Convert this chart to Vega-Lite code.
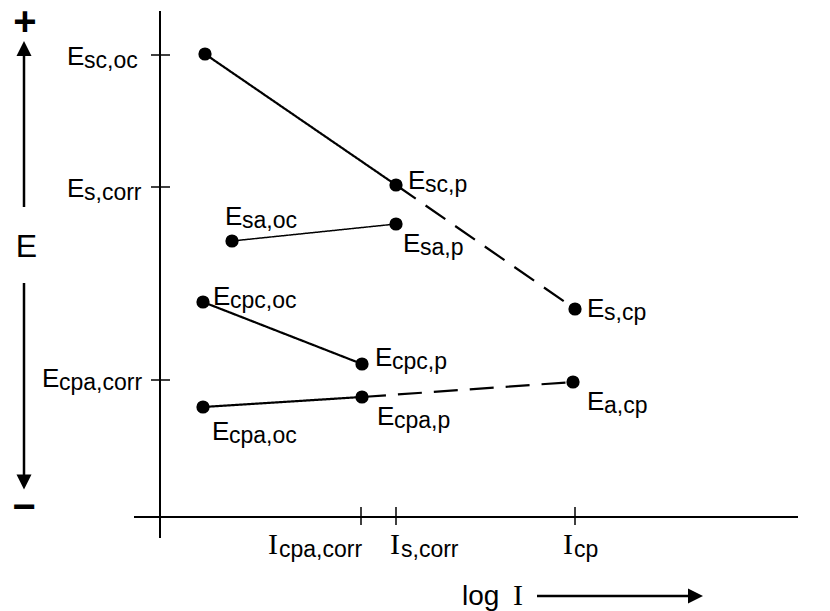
{
  "$schema": "https://vega.github.io/schema/vega-lite/v6.json",
  "width": 830,
  "height": 611,
  "autosize": {"type": "none"},
  "padding": 0,
  "background": "white",
  "config": {"view": {"stroke": null}},
  "datasets": {
    "axes": [
      {"x": 0, "y": 50.6, "x2": 0, "y2": -2.1},
      {"x": -2.6, "y": 0, "x2": 63.8, "y2": 0}
    ],
    "ticks": [
      {"x": -0.9, "y": 46.2, "x2": 1.0, "y2": 46.2},
      {"x": -0.9, "y": 33.0, "x2": 1.0, "y2": 33.0},
      {"x": -0.9, "y": 13.7, "x2": 1.0, "y2": 13.7},
      {"x": 20.1, "y": 1.0, "x2": 20.1, "y2": -0.8},
      {"x": 23.6, "y": 1.0, "x2": 23.6, "y2": -0.8},
      {"x": 41.5, "y": 1.0, "x2": 41.5, "y2": -0.8}
    ],
    "arrows": [
      {"x": -13.6, "y": 46.1, "x2": -13.6, "y2": 31.0},
      {"x": -13.6, "y": 23.4, "x2": -13.6, "y2": 4.1},
      {"x": 37.7, "y": -7.9, "x2": 53.0, "y2": -7.9}
    ],
    "heads": [
      {"x": -13.6, "y": 46.85, "dir": "up"},
      {"x": -13.6, "y": 3.5, "dir": "down"},
      {"x": 53.55, "y": -7.9, "dir": "right"}
    ],
    "segments": [
      {"seg": "sc", "style": "solid", "x": 4.5, "y": 46.3},
      {"seg": "sc", "style": "solid", "x": 23.6, "y": 33.2},
      {"seg": "scd", "style": "dashed", "x": 23.6, "y": 33.2},
      {"seg": "scd", "style": "dashed", "x": 41.5, "y": 20.8},
      {"seg": "sa", "style": "thin", "x": 7.2, "y": 27.6},
      {"seg": "sa", "style": "thin", "x": 23.6, "y": 29.3},
      {"seg": "cpc", "style": "solid", "x": 4.3, "y": 21.5},
      {"seg": "cpc", "style": "solid", "x": 20.2, "y": 15.3},
      {"seg": "cpa", "style": "solid", "x": 4.3, "y": 11.0},
      {"seg": "cpa", "style": "solid", "x": 20.2, "y": 12.0},
      {"seg": "cpad", "style": "dashed", "x": 20.2, "y": 12.0},
      {"seg": "cpad", "style": "dashed", "x": 41.3, "y": 13.5}
    ],
    "points": [
      {"name": "Esc,oc", "x": 4.5, "y": 46.3},
      {"name": "Esc,p", "x": 23.6, "y": 33.2},
      {"name": "Es,cp", "x": 41.5, "y": 20.8},
      {"name": "Esa,oc", "x": 7.2, "y": 27.6},
      {"name": "Esa,p", "x": 23.6, "y": 29.3},
      {"name": "Ecpc,oc", "x": 4.3, "y": 21.5},
      {"name": "Ecpc,p", "x": 20.2, "y": 15.3},
      {"name": "Ecpa,oc", "x": 4.3, "y": 11.0},
      {"name": "Ecpa,p", "x": 20.2, "y": 12.0},
      {"name": "Ea,cp", "x": 41.3, "y": 13.5}
    ],
    "labels": [
      {"k": "E", "main": "E", "sub": "sc,oc", "x": -9.3, "y": 45.2},
      {"k": "E", "main": "E", "sub": "s,corr", "x": -9.3, "y": 32.0},
      {"k": "E", "main": "E", "sub": "cpa,corr", "x": -11.8, "y": 13.0},
      {"k": "E", "main": "E", "sub": "sc,p", "x": 24.8, "y": 32.8},
      {"k": "E", "main": "E", "sub": "sa,oc", "x": 6.5, "y": 29.2},
      {"k": "E", "main": "E", "sub": "sa,p", "x": 24.3, "y": 26.5},
      {"k": "E", "main": "E", "sub": "cpc,oc", "x": 5.3, "y": 21.2},
      {"k": "E", "main": "E", "sub": "s,cp", "x": 42.7, "y": 20.0},
      {"k": "E", "main": "E", "sub": "cpc,p", "x": 21.5, "y": 15.1},
      {"k": "E", "main": "E", "sub": "cpa,p", "x": 21.7, "y": 9.2},
      {"k": "E", "main": "E", "sub": "cpa,oc", "x": 5.2, "y": 7.7},
      {"k": "E", "main": "E", "sub": "a,cp", "x": 42.7, "y": 10.7},
      {"k": "I", "main": "I", "sub": "cpa,corr", "x": 10.8, "y": -3.7},
      {"k": "I", "main": "I", "sub": "s,corr", "x": 23.0, "y": -3.7},
      {"k": "I", "main": "I", "sub": "cp", "x": 40.3, "y": -3.7}
    ],
    "titles": [
      {"t": "E", "x": -13.35, "y": 26.0}
    ],
    "logt": [
      {"t": "log", "x": 30.2, "y": -8.8}
    ],
    "logi": [
      {"t": "I", "x": 35.3, "y": -8.8}
    ],
    "signs": [
      {"t": "+", "x": -13.5, "y": 49.4},
      {"t": "−", "x": -13.6, "y": 0.9}
    ]
  },
  "encoding": {
    "x": {"field": "x", "type": "quantitative", "scale": {"domain": [-16, 67], "nice": false, "zero": false}, "axis": null},
    "y": {"field": "y", "type": "quantitative", "scale": {"domain": [-9.4, 51.7], "nice": false, "zero": false}, "axis": null}
  },
  "layer": [
    {
      "data": {"name": "axes"},
      "mark": {"type": "rule", "color": "black", "strokeWidth": 2},
      "encoding": {"x2": {"field": "x2"}, "y2": {"field": "y2"}}
    },
    {
      "data": {"name": "ticks"},
      "mark": {"type": "rule", "color": "black", "strokeWidth": 1.5},
      "encoding": {"x2": {"field": "x2"}, "y2": {"field": "y2"}}
    },
    {
      "data": {"name": "arrows"},
      "mark": {"type": "rule", "color": "black", "strokeWidth": 2.5},
      "encoding": {"x2": {"field": "x2"}, "y2": {"field": "y2"}}
    },
    {
      "data": {"name": "heads"},
      "mark": {"type": "point", "filled": true, "color": "black", "opacity": 1, "size": 225, "strokeWidth": 0},
      "encoding": {
        "shape": {"field": "dir", "type": "nominal", "legend": null,
          "scale": {"domain": ["up", "down", "right"], "range": ["M-1,1L1,1L0,-1Z", "M-1,-1L1,-1L0,1Z", "M-1,-1L1,0L-1,1Z"]}}
      }
    },
    {
      "data": {"name": "segments"},
      "mark": {"type": "line", "color": "black"},
      "encoding": {
        "detail": {"field": "seg", "type": "nominal"},
        "strokeDash": {"field": "style", "type": "nominal", "legend": null,
          "scale": {"domain": ["solid", "thin", "dashed"], "range": [[1, 0], [1, 0], [24, 12]]}},
        "strokeWidth": {"condition": {"test": "datum.style == 'thin'", "value": 1.5}, "value": 2.2}
      }
    },
    {
      "data": {"name": "points"},
      "mark": {"type": "point", "shape": "circle", "filled": true, "color": "black", "opacity": 1, "size": 175}
    },
    {
      "data": {"name": "labels"},
      "transform": [{"filter": "datum.k == 'E'"}],
      "mark": {"type": "text", "align": "left", "baseline": "alphabetic", "font": "Liberation Sans", "fontSize": 26, "color": "black"},
      "encoding": {"text": {"field": "main"}}
    },
    {
      "data": {"name": "labels"},
      "transform": [{"filter": "datum.k == 'E'"}],
      "mark": {"type": "text", "align": "left", "baseline": "alphabetic", "font": "Liberation Sans", "fontSize": 23, "dx": 17, "dy": 3, "color": "black"},
      "encoding": {"text": {"field": "sub"}}
    },
    {
      "data": {"name": "labels"},
      "transform": [{"filter": "datum.k == 'I'"}],
      "mark": {"type": "text", "align": "left", "baseline": "alphabetic", "font": "Liberation Serif", "fontSize": 30, "color": "black"},
      "encoding": {"text": {"field": "main"}}
    },
    {
      "data": {"name": "labels"},
      "transform": [{"filter": "datum.k == 'I'"}],
      "mark": {"type": "text", "align": "left", "baseline": "alphabetic", "font": "Liberation Sans", "fontSize": 23, "dx": 11, "dy": 3, "color": "black"},
      "encoding": {"text": {"field": "sub"}}
    },
    {
      "data": {"name": "titles"},
      "mark": {"type": "text", "align": "center", "baseline": "alphabetic", "font": "Liberation Sans", "fontSize": 32, "color": "black"},
      "encoding": {"text": {"field": "t"}}
    },
    {
      "data": {"name": "logt"},
      "mark": {"type": "text", "align": "left", "baseline": "alphabetic", "font": "Liberation Sans", "fontSize": 28, "color": "black"},
      "encoding": {"text": {"field": "t"}}
    },
    {
      "data": {"name": "logi"},
      "mark": {"type": "text", "align": "left", "baseline": "alphabetic", "font": "Liberation Serif", "fontSize": 30, "color": "black"},
      "encoding": {"text": {"field": "t"}}
    },
    {
      "data": {"name": "signs"},
      "mark": {"type": "text", "align": "center", "baseline": "middle", "font": "Liberation Sans", "fontSize": 40, "fontWeight": "bold", "color": "black"},
      "encoding": {"text": {"field": "t"}}
    }
  ]
}
